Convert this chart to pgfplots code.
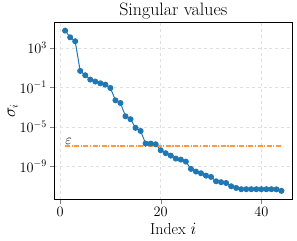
\documentclass[border=0pt]{standalone}
\usepackage{pgfplots}
\pgfplotsset{compat=1.18}
\definecolor{mplblue}{RGB}{31,119,180}
\definecolor{mplorange}{RGB}{255,127,14}
\begin{document}
\begin{tikzpicture}
\path (-54.3bp,-40.7bp) rectangle (242.7bp,199.3bp);
\begin{axis}[
  scale only axis,
  width=238bp, height=177bp,
  ymode=log, log basis y=10,
  xmin=-1.15, xmax=46.15,
  ymin=4.2e-13, ymax=3.8e5,
  xtick={0,20,40},
  ytick={1e-9,1e-5,1e-1,1e3},
  minor ytick={},
  grid=major,
  major grid style={gray!25, dashed, line width=0.5pt},
  tick align=outside,
  tick pos=left,
  major tick length=4bp,
  axis line style={line width=0.9pt},
  tick label style={font=\fontsize{14}{16}\selectfont},
  label style={font=\fontsize{16}{18}\selectfont},
  title style={font=\fontsize{18}{20}\selectfont, yshift=-6.5pt},
  title={Singular values},
  xlabel={Index $i$},
  ylabel={$\sigma_i$},
  ylabel style={yshift=-5pt},
]
\addplot[mplblue, line width=1pt, mark=*, mark size=2.5pt, mark options={fill=mplblue, draw=mplblue}] coordinates {
(1,5.75e4) (2,1.2e4) (3,4.8e3) (4,4.7) (5,1.7) (6,0.62) (7,0.39) (8,0.26) (9,0.19) (10,0.087)
(11,4.9e-3) (12,2.6e-3) (13,1.17e-4) (14,5.9e-5) (15,7.8e-6) (16,3.8e-6) (17,2.0e-7) (18,2.0e-7) (19,1.7e-7) (20,4.2e-8)
(21,2.1e-8) (22,1.2e-8) (23,6.0e-9) (24,4.7e-9) (25,2.95e-9) (26,5.4e-10) (27,2.9e-10) (28,1.95e-10) (29,1.12e-10) (30,8.3e-11)
(31,3.0e-11) (32,2.4e-11) (33,2.0e-11) (34,9.3e-12) (35,6.3e-12) (36,4.7e-12) (37,4.7e-12) (38,4.7e-12) (39,4.7e-12) (40,4.7e-12)
(41,4.7e-12) (42,4.7e-12) (43,4.5e-12) (44,3.2e-12)
};
\addplot[mplorange!80, line width=1.2pt, dash pattern=on 5pt off 1.5pt on 1.2pt off 1.5pt] coordinates {(1,1.15e-7) (44,1.15e-7)};
\node[anchor=south west, inner sep=1pt, font=\fontsize{14}{16}\selectfont] at (axis cs:0.8,1.15e-7) {$\varepsilon$};
\end{axis}
\end{tikzpicture}
\end{document}
